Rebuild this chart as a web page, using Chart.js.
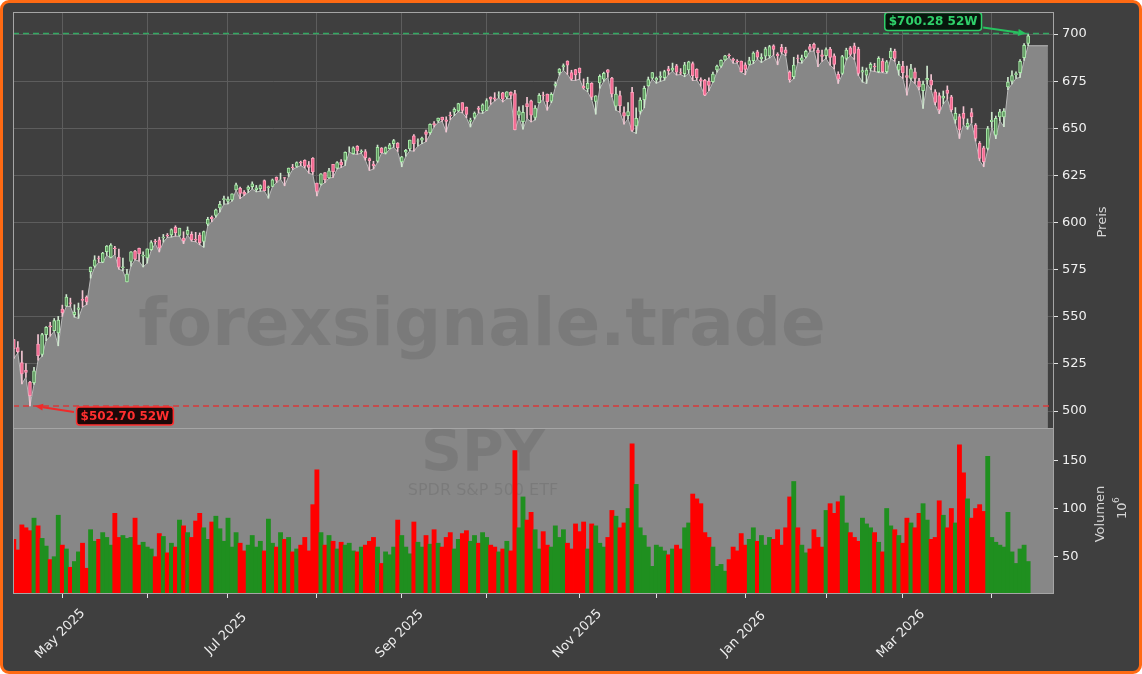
<!DOCTYPE html>
<html>
<head>
<meta charset="utf-8">
<script src="https://cdn.jsdelivr.net/npm/chart.js@4.4.1/dist/chart.umd.min.js"></script>
<style>
  html, body { margin: 0; padding: 0; background: #ffffff; }
  #frame { position: absolute; left: 0; top: 0; width: 1142px; height: 674px; box-sizing: border-box;
           border: 3px solid #ff6a13; border-radius: 9px; background: #3f3f3f; }
  canvas { position: absolute; left: 0; top: 0; }
</style>
</head>
<body>
<div id="frame"></div>
<canvas id="price" width="1142" height="430"></canvas>
<canvas id="volume" width="1142" height="674"></canvas>
<script>
// SPY daily, adjusted, 2025-04-14 .. 2026-04-15 (USD), volume in millions
const opens = [
  537.9, 533.6, 525.7, 521.6, 515.3, 515.1, 535.5, 530.0, 540.5, 545.2, 542.7, 541.4,
  554.1, 555.6, 557.4, 551.1, 553.9, 559.2, 560.5, 573.9, 576.8, 581.1, 579.0, 584.6, 581.5, 586.4, 581.7, 576.1, 568.5, 579.4, 584.9, 586.3, 582.2,
  581.2, 585.6, 590.2, 590.8, 591.9, 593.2, 593.4, 597.4, 593.2, 591.7, 593.7, 593.8, 591.2, 593.4, 590.0, 599.2, 602.8, 603.8, 607.8, 612.2,
  611.2, 612.0, 617.3, 618.2, 616.2, 617.6, 619.0, 617.5, 618.0, 622.2, 618.5, 619.2, 624.0, 623.5, 623.8, 626.3, 629.3, 629.8, 632.1, 633.0, 630.6, 634.1,
  621.0, 620.4, 626.5, 623.7, 630.9, 628.8, 632.1, 632.9, 639.5, 636.6, 640.5, 637.5, 637.7, 634.0, 631.0, 632.5, 639.5, 637.0, 639.2, 641.8, 642.1,
  632.1, 637.3, 639.0, 646.0, 643.2, 643.7, 648.1, 647.7, 652.5, 653.9, 655.9, 654.5, 657.0, 658.6, 659.2, 663.6, 661.2, 653.7, 655.8, 660.7, 659.2,
  659.5, 666.6, 666.2, 667.6, 668.8, 666.5, 669.1, 668.4, 656.9, 653.5, 663.1, 664.6, 655.8, 663.6, 667.6, 668.2, 664.4, 672.7, 679.5, 682.5, 685.6, 679.5, 681.2,
  681.9, 672.3, 670.9, 673.9, 664.2, 674.1, 676.1, 681.0, 676.7, 661.7, 667.4, 658.4, 656.7, 669.1, 651.3, 659.0, 665.2, 672.5, 676.6,
  675.6, 677.0, 676.9, 681.6, 680.8, 683.2, 679.6, 679.0, 681.0, 684.4, 681.3, 675.9, 675.4, 675.0, 674.8, 681.0, 682.9, 686.3, 688.7, 686.7, 685.6, 685.6,
  683.7, 683.9, 685.9, 690.6, 687.0, 688.3, 688.4, 693.7, 689.2, 693.0, 691.6, 679.8, 677.4, 687.3, 686.0, 687.9, 693.4, 694.5, 691.5, 689.0,
  688.5, 692.0, 688.5, 678.6, 679.1, 687.1, 692.7, 693.8, 692.0, 679.8, 678.2, 681.8, 683.0, 680.0, 685.7, 680.0, 687.4, 691.0, 680.9,
  683.0, 678.0, 676.5, 680.0, 675.0, 670.0, 675.5, 675.6, 669.4, 667.3, 666.0, 670.3, 666.7, 654.4, 656.2, 657.9, 650.8, 658.4, 651.7, 642.0, 639.7, 639.3,
  653.5, 646.4, 656.1, 656.1, 672.0, 675.0, 678.5, 679.5, 687.5, 695.0
];
const highs = [
  538.1, 536.9, 531.8, 525.2, 515.8, 523.2, 540.5, 541.2, 544.8, 547.1, 549.1, 550.2,
  556.2, 561.8, 559.9, 556.4, 557.3, 563.9, 561.1, 576.4, 582.4, 582.2, 584.2, 587.8, 588.8, 587.4, 585.9, 581.2, 575.2, 584.6, 585.3, 586.5, 584.4,
  586.1, 590.4, 591.1, 592.2, 593.7, 594.2, 596.7, 598.3, 597.0, 595.1, 597.7, 595.1, 594.8, 594.5, 595.5, 602.8, 603.5, 607.2, 611.2, 614.0,
  613.6, 615.3, 621.0, 618.8, 616.9, 619.5, 621.6, 619.7, 620.0, 622.6, 619.4, 623.1, 624.2, 626.2, 624.0, 628.9, 630.9, 632.2, 632.6, 633.3, 632.4, 634.5,
  621.0, 626.0, 626.5, 628.7, 630.9, 632.3, 633.4, 637.5, 640.2, 640.2, 640.8, 638.6, 638.7, 634.3, 632.5, 641.1, 639.8, 640.1, 642.0, 644.1, 642.4,
  635.1, 638.8, 643.7, 646.7, 644.4, 645.4, 649.1, 652.4, 653.6, 655.4, 655.9, 656.1, 658.6, 660.9, 663.3, 663.6, 661.3, 655.4, 658.7, 661.6, 663.0,
  665.7, 666.7, 668.9, 669.4, 669.1, 669.4, 669.3, 670.1, 661.4, 662.1, 666.4, 665.0, 662.1, 668.4, 669.2, 668.2, 668.9, 674.6, 681.7, 684.2, 685.8, 680.8, 681.3,
  682.0, 676.2, 677.1, 674.2, 667.3, 678.4, 679.8, 681.1, 677.1, 671.9, 669.8, 661.4, 663.6, 671.8, 660.9, 666.2, 672.4, 677.2, 679.6,
  677.2, 680.0, 680.8, 682.9, 684.6, 683.9, 681.7, 685.0, 685.6, 685.2, 681.6, 676.8, 676.0, 676.8, 679.8, 683.5, 686.3, 688.7, 689.5, 687.3, 686.4, 685.7,
  684.8, 687.7, 690.6, 691.4, 689.6, 693.0, 694.0, 694.3, 690.1, 694.5, 693.0, 680.5, 687.7, 688.9, 688.9, 691.5, 694.5, 695.2, 692.5, 691.5,
  692.7, 693.0, 689.5, 680.0, 688.7, 692.5, 693.4, 695.2, 693.0, 682.5, 682.0, 684.8, 684.5, 688.0, 687.0, 686.0, 692.5, 692.0, 685.5,
  685.5, 683.0, 684.0, 682.0, 676.5, 675.0, 683.0, 678.5, 670.5, 668.8, 669.8, 672.5, 667.5, 661.0, 657.5, 661.5, 655.0, 660.5, 652.5, 643.0, 640.5, 651.0,
  658.5, 656.5, 660.0, 660.5, 677.0, 680.5, 680.0, 686.5, 695.0, 700.28
];
const lows = [
  527.9, 530.8, 514.4, 518.0, 502.7, 514.1, 527.0, 529.0, 537.3, 539.7, 542.4, 534.6,
  550.2, 555.5, 555.5, 549.8, 549.2, 555.2, 556.4, 570.5, 576.2, 578.9, 578.7, 582.6, 581.3, 583.0, 575.2, 574.4, 568.5, 576.9, 580.2, 579.5, 576.4,
  578.5, 585.2, 588.8, 584.4, 589.6, 592.1, 592.3, 592.8, 592.7, 588.8, 593.5, 590.1, 589.8, 588.2, 586.9, 598.3, 600.4, 602.9, 605.7, 609.8,
  609.9, 611.4, 617.2, 612.7, 614.3, 615.9, 617.8, 616.3, 616.6, 616.8, 612.9, 619.0, 621.2, 623.0, 619.5, 624.4, 628.1, 629.3, 630.2, 629.0, 626.2, 625.5,
  614.1, 619.8, 621.2, 623.6, 623.9, 628.4, 629.2, 630.3, 637.4, 636.3, 636.2, 636.8, 633.1, 627.6, 628.4, 631.9, 636.9, 636.4, 639.0, 639.9, 637.7,
  629.6, 635.2, 638.1, 637.9, 640.6, 641.8, 642.9, 646.7, 650.7, 653.1, 653.7, 648.0, 654.6, 656.7, 658.8, 658.2, 655.6, 650.7, 654.9, 658.2, 657.9,
  659.4, 662.7, 664.5, 666.1, 664.0, 665.7, 665.7, 649.1, 655.6, 649.5, 655.2, 653.4, 654.4, 663.5, 665.3, 659.6, 663.6, 671.8, 678.3, 680.8, 678.6, 675.4, 675.4,
  676.1, 670.8, 669.4, 665.2, 657.5, 671.2, 674.9, 677.1, 666.7, 659.6, 658.5, 652.2, 655.1, 648.3, 647.3, 657.5, 660.9, 672.3, 676.0,
  673.9, 674.9, 675.5, 678.5, 680.2, 678.3, 678.5, 677.4, 679.1, 675.3, 675.5, 672.3, 667.3, 669.9, 674.4, 679.8, 682.3, 686.0, 687.6, 684.5, 684.6, 679.8,
  678.4, 683.5, 684.3, 686.7, 684.9, 686.3, 687.3, 688.9, 683.7, 689.6, 688.5, 674.5, 676.3, 684.9, 684.6, 687.3, 690.9, 691.0, 682.7, 685.5,
  687.0, 683.5, 681.5, 673.8, 678.5, 686.2, 688.5, 686.5, 678.0, 674.5, 673.8, 680.5, 680.2, 679.5, 679.5, 679.2, 687.0, 685.5, 678.2,
  676.5, 667.6, 675.5, 673.8, 670.3, 660.6, 673.5, 670.5, 662.5, 657.8, 663.0, 665.5, 658.8, 652.6, 644.6, 652.0, 649.5, 653.0, 643.2, 632.8, 629.6, 638.5,
  650.5, 644.5, 654.0, 650.8, 670.5, 673.5, 676.5, 677.0, 686.0, 693.8
];
const closes = [
  533.0, 531.5, 519.7, 520.5, 508.1, 521.3, 529.4, 540.5, 544.4, 544.6, 548.0, 548.3,
  552.2, 560.4, 557.1, 552.5, 554.8, 558.7, 557.9, 576.4, 580.2, 581.0, 583.8, 587.5, 588.1, 586.2, 576.3, 576.5, 572.6, 584.5, 580.6, 583.4, 582.7,
  586.0, 589.4, 589.7, 586.4, 592.3, 592.9, 596.3, 594.6, 597.0, 590.3, 595.9, 590.8, 590.6, 589.3, 595.2, 601.7, 602.0, 606.8, 609.7, 612.7,
  612.5, 615.3, 620.0, 615.5, 615.1, 618.8, 620.5, 618.4, 619.6, 616.9, 619.0, 622.7, 622.3, 623.5, 623.6, 628.9, 629.1, 631.8, 631.6, 629.9, 629.2, 626.8,
  616.5, 625.9, 622.7, 627.5, 627.0, 631.8, 630.6, 637.3, 639.5, 639.6, 638.0, 637.9, 634.4, 632.8, 630.2, 639.9, 637.1, 639.8, 641.2, 643.5, 639.7,
  634.9, 638.3, 643.7, 641.8, 643.3, 644.8, 646.7, 652.1, 651.9, 655.4, 654.5, 653.7, 656.7, 660.0, 663.1, 659.5, 657.4, 654.4, 658.1, 660.0, 662.5,
  664.7, 665.5, 665.5, 667.8, 665.4, 669.3, 667.4, 649.3, 659.3, 658.5, 661.5, 656.9, 660.7, 667.5, 667.5, 664.1, 668.0, 673.5, 681.4, 683.3, 683.5, 676.0, 678.3,
  679.5, 671.4, 673.8, 666.5, 667.2, 677.6, 679.2, 679.6, 668.3, 668.2, 662.0, 656.4, 658.9, 648.9, 655.3, 665.0, 671.2, 675.9, 679.6,
  676.5, 677.7, 680.1, 680.6, 681.9, 679.8, 679.2, 683.7, 685.3, 677.9, 676.9, 675.1, 667.6, 672.7, 678.8, 683.0, 686.1, 688.5, 688.4, 686.0, 685.2, 680.1,
  681.3, 685.9, 689.9, 687.7, 687.6, 692.2, 693.3, 691.9, 688.5, 690.4, 689.8, 675.8, 683.5, 687.1, 687.4, 690.9, 691.8, 692.4, 690.0, 688.2,
  691.7, 687.6, 683.9, 676.1, 688.0, 691.5, 689.2, 689.7, 679.1, 680.6, 680.9, 683.9, 682.5, 687.1, 680.0, 685.3, 691.0, 687.1, 683.9,
  679.5, 677.0, 681.5, 676.5, 672.0, 673.5, 676.5, 672.9, 663.7, 659.7, 667.0, 668.5, 659.7, 657.9, 649.1, 655.3, 652.6, 656.1, 644.6, 634.0, 632.3, 649.9,
  654.4, 655.3, 658.8, 659.1, 674.5, 678.0, 679.0, 685.5, 694.0, 699.0
];
const volumes = [
  68, 57, 83, 80, 77, 90, 82, 69, 61, 47, 50, 93,
  62, 58, 39, 45, 55, 64, 38, 78, 66, 68, 75, 70, 62, 95, 70, 72, 69, 70, 90, 62, 65,
  60, 58, 50, 74, 71, 54, 64, 60, 88, 82, 75, 70, 87, 95, 80, 68, 86, 92, 79, 66,
  90, 60, 75, 64, 56, 62, 72, 60, 66, 56, 89, 64, 60, 75, 68, 70, 55, 58, 62, 70, 56, 104,
  140, 75, 62, 72, 66, 58, 65, 62, 64, 56, 55, 60, 62, 66, 70, 60, 43, 55, 52, 60, 88,
  72, 60, 53, 86, 65, 60, 72, 63, 78, 64, 60, 70, 75, 58, 68, 74, 77, 66, 72, 64, 75,
  70, 62, 60, 55, 58, 66, 56, 160, 80, 112, 88, 96, 78, 58, 76, 62, 60, 82, 70, 78, 64, 58, 84,
  76, 86, 58, 84, 82, 64, 60, 70, 98, 92, 80, 85, 100, 167, 125, 80, 72, 60, 40,
  62, 60, 56, 52, 58, 62, 58, 80, 85, 115, 110, 105, 75, 70, 60, 40, 42, 35, 47, 60, 56, 74,
  62, 68, 80, 66, 72, 62, 70, 68, 78, 62, 80, 112, 128, 80, 62, 54, 58, 78, 70, 60,
  98, 105, 95, 107, 113, 85, 75, 70, 66, 90, 84, 80, 75, 65, 55, 100, 82, 78, 72,
  64, 90, 85, 80, 95, 105, 88, 68, 70, 108, 93, 80, 100, 85, 166, 137, 110, 90, 100, 104, 97, 154,
  70, 65, 62, 60, 96, 55, 43, 58, 62, 45
];
// the grey price area runs on flat past the last session
const areaTailDay = 255.9, areaTailLow = 693.8;

const priceTicks = [500, 525, 550, 575, 600, 625, 650, 675, 700];
const volumeTicks = [50, 100, 150];
const monthNames = ['Jan', 'Feb', 'Mar', 'Apr', 'May', 'Jun', 'Jul', 'Aug', 'Sep', 'Oct', 'Nov', 'Dec'];
const holidays = ['2025-04-18', '2025-05-26', '2025-06-19', '2025-07-04', '2025-09-01', '2025-11-27',
                  '2025-12-25', '2026-01-01', '2026-01-19', '2026-02-16', '2026-04-03'];

// trading sessions (x axis is the session index)
const days = [];
for (let d = new Date(Date.UTC(2025, 3, 14)); days.length < closes.length; d.setUTCDate(d.getUTCDate() + 1)) {
  const iso = d.toISOString().slice(0, 10);
  if (d.getUTCDay() === 0 || d.getUTCDay() === 6 || holidays.includes(iso)) continue;
  days.push(iso);
}
const monthStarts = [];
days.forEach((d, i) => { if (i > 0 && d.slice(5, 7) !== days[i - 1].slice(5, 7)) monthStarts.push(i); });
const monthLabel = i => {
  const m = +days[i].slice(5, 7);
  return m % 2 === 1 ? monthNames[m - 1] + ' ' + days[i].slice(0, 4) : '';
};

const xMin = -0.2, xMax = 257.4;
const FONT = 'DejaVu Sans, sans-serif';
const up = closes.map((c, i) => c >= opens[i]);
const hiIdx = highs.indexOf(Math.max(...highs));
const loIdx = lows.indexOf(Math.min(...lows));
const hiVal = highs[hiIdx], loVal = lows[loIdx];

function badge(ctx, text, cx, cy, color, fill) {
  ctx.font = 'bold 12px ' + FONT;
  const w = ctx.measureText(text).width + 8, h = 18;
  ctx.beginPath();
  ctx.roundRect(cx - w / 2, cy - h / 2, w, h, 3);
  ctx.fillStyle = fill; ctx.fill();
  ctx.lineWidth = 1.5; ctx.strokeStyle = color; ctx.stroke();
  ctx.fillStyle = color; ctx.textAlign = 'center'; ctx.textBaseline = 'middle';
  ctx.fillText(text, cx, cy + 0.5);
}
function arrow(ctx, x1, y1, x2, y2, color) {
  const a = Math.atan2(y2 - y1, x2 - x1), L = 8, W = 3.5;
  ctx.strokeStyle = color; ctx.fillStyle = color; ctx.lineWidth = 2;
  ctx.beginPath(); ctx.moveTo(x1, y1); ctx.lineTo(x2 - L * Math.cos(a), y2 - L * Math.sin(a)); ctx.stroke();
  ctx.beginPath(); ctx.moveTo(x2, y2);
  ctx.lineTo(x2 - L * Math.cos(a) + W * Math.sin(a), y2 - L * Math.sin(a) - W * Math.cos(a));
  ctx.lineTo(x2 - L * Math.cos(a) - W * Math.sin(a), y2 - L * Math.sin(a) + W * Math.cos(a));
  ctx.closePath(); ctx.fill();
}
// keep the plot boxes exactly where the reference has them
const noPad = s => { s.paddingTop = 0; s.paddingBottom = 0; s.paddingLeft = 0; s.paddingRight = 0; };

const pricePlugin = {
  id: 'priceDecor',
  afterDatasetsDraw(chart) {
    const { ctx, scales: { x, y } } = chart;
    ctx.save();
    ctx.font = 'bold 66px ' + FONT;
    ctx.fillStyle = 'rgba(0,0,0,0.09)';
    ctx.textAlign = 'center'; ctx.textBaseline = 'middle';
    ctx.fillText('forexsignale.trade', 482, 328);
    // 52W high / low badges
    const hx = x.getPixelForValue(hiIdx), hy = y.getPixelForValue(hiVal);
    arrow(ctx, hx - 45, hy - 6, hx - 2, hy, '#27c25f');
    badge(ctx, '$' + hiVal.toFixed(2) + ' 52W', hx - 95, hy - 12, '#2fd06a', '#07170c');
    const lx = x.getPixelForValue(loIdx), ly = y.getPixelForValue(loVal);
    arrow(ctx, lx + 44, ly + 6, lx + 5, ly, '#f02a2a');
    badge(ctx, '$' + loVal.toFixed(2) + ' 52W', lx + 95, ly + 10, '#ff2f2f', '#1c0808');
    ctx.restore();
  },
  afterDraw(chart) {
    const { ctx, chartArea: a } = chart;
    ctx.save();
    ctx.strokeStyle = '#a5a5a5'; ctx.lineWidth = 1;
    ctx.strokeRect(a.left + 0.5, a.top + 0.5, a.right - a.left - 1, a.bottom - a.top);
    ctx.translate(1103, (a.top + a.bottom) / 2 + 2);
    ctx.rotate(-Math.PI / 2);
    ctx.font = '13px ' + FONT; ctx.fillStyle = '#d6d6d6';
    ctx.textAlign = 'center'; ctx.textBaseline = 'middle';
    ctx.fillText('Preis', 0, 0);
    ctx.restore();
  }
};

new Chart(document.getElementById('price'), {
  type: 'bar',
  data: {
    datasets: [
      { type: 'line', data: days.map((d, i) => ({ x: i, y: lows[i] })).concat([{ x: areaTailDay, y: areaTailLow }]),
        fill: 'start', backgroundColor: '#878787', borderColor: '#b9b9b9', borderWidth: 1,
        pointRadius: 0, tension: 0, order: 5 },
      { type: 'bar', data: days.map((d, i) => ({ x: i, y: [lows[i], highs[i]] })),
        backgroundColor: up.map(u => u ? '#cfe8cf' : '#f3c6d3'), barThickness: 1, grouped: false, order: 3 },
      { type: 'bar', data: days.map((d, i) => ({ x: i, y: [opens[i], closes[i]] })),
        backgroundColor: up.map(u => u ? '#5f955f' : '#f2668f'),
        borderColor: up.map(u => u ? '#a8eca8' : '#ff9fba'),
        borderWidth: 1, borderSkipped: false, barThickness: 3, grouped: false, order: 2 },
      { type: 'line', data: [{ x: xMin, y: hiVal }, { x: xMax, y: hiVal }], borderColor: '#33a862',
        borderWidth: 1.6, borderDash: [6, 4], pointRadius: 0, fill: false, order: 1 },
      { type: 'line', data: [{ x: xMin, y: loVal }, { x: xMax, y: loVal }], borderColor: '#d83a3a',
        borderWidth: 1.6, borderDash: [6, 4], pointRadius: 0, fill: false, order: 1 }
    ]
  },
  options: {
    responsive: false, animation: false, devicePixelRatio: 1,
    layout: { padding: { left: 13, top: 12, right: 0, bottom: 0 } },
    plugins: { legend: { display: false }, tooltip: { enabled: false } },
    scales: {
      x: { type: 'linear', min: xMin, max: xMax, offset: false,
           grid: { color: '#5d5d5d', drawTicks: false, offset: false }, border: { display: false },
           ticks: { display: false },
           afterBuildTicks: s => { s.ticks = monthStarts.map(v => ({ value: v })); },
           afterFit: s => { s.height = 2; noPad(s); } },
      y: { position: 'right', min: 491, max: 711.7,
           grid: { color: '#5d5d5d', tickColor: '#e6e6e6', tickLength: 4 }, border: { display: false },
           ticks: { color: '#f0f0f0', font: { family: FONT, size: 13 }, padding: 4 },
           afterBuildTicks: s => { s.ticks = priceTicks.map(v => ({ value: v })); },
           afterFit: s => { s.width = 88; noPad(s); } }
    }
  },
  plugins: [pricePlugin]
});

const volumePlugin = {
  id: 'volumeDecor',
  beforeDraw(chart) {
    const { ctx, chartArea: a } = chart;
    ctx.save();
    ctx.fillStyle = '#878787';
    ctx.fillRect(a.left, a.top, a.right - a.left, a.bottom - a.top);
    ctx.restore();
  },
  beforeDatasetsDraw(chart) {
    const { ctx } = chart;
    ctx.save();
    ctx.fillStyle = 'rgba(0,0,0,0.09)';
    ctx.textAlign = 'center'; ctx.textBaseline = 'middle';
    ctx.font = 'bold 57px ' + FONT;
    ctx.fillText('SPY', 483, 456);
    ctx.font = '16px ' + FONT;
    ctx.fillText('SPDR S&P 500 ETF', 483, 491);
    ctx.restore();
  },
  afterDraw(chart) {
    const { ctx, chartArea: a, scales: { x } } = chart;
    ctx.save();
    ctx.strokeStyle = '#a5a5a5'; ctx.lineWidth = 1;
    ctx.strokeRect(a.left + 0.5, a.top + 0.5, a.right - a.left - 1, a.bottom - a.top - 1);
    ctx.font = '13px ' + FONT; ctx.fillStyle = '#ededed';
    ctx.textAlign = 'center'; ctx.textBaseline = 'middle';
    monthStarts.forEach(i => {
      const t = monthLabel(i);
      if (!t) return;
      ctx.save();
      ctx.translate(x.getPixelForValue(i) - 2, a.bottom + 40);
      ctx.rotate(-Math.PI / 4);
      ctx.fillText(t, 0, 0);
      ctx.restore();
    });
    ctx.fillStyle = '#d6d6d6';
    ctx.save();
    ctx.translate(1101, 514); ctx.rotate(-Math.PI / 2);
    ctx.fillText('Volumen', 0, 0);
    ctx.restore();
    ctx.save();
    ctx.translate(1122, 508); ctx.rotate(-Math.PI / 2);
    ctx.textAlign = 'left';
    ctx.fillText('10', -11, 1);
    ctx.font = '9px ' + FONT;
    ctx.fillText('6', 5, -5);
    ctx.restore();
    ctx.restore();
  }
};

new Chart(document.getElementById('volume'), {
  type: 'bar',
  data: {
    datasets: [{
      data: days.map((d, i) => ({ x: i, y: volumes[i] })),
      backgroundColor: up.map(u => u ? '#1f8f1f' : '#ff0000'),
      barThickness: 4.2, grouped: false
    }]
  },
  options: {
    responsive: false, animation: false, devicePixelRatio: 1,
    layout: { padding: { left: 13, top: 428, right: 0, bottom: 0 } },
    plugins: { legend: { display: false }, tooltip: { enabled: false } },
    scales: {
      x: { type: 'linear', min: xMin, max: xMax, offset: false,
           grid: { drawOnChartArea: false, tickLength: 4, tickColor: '#e6e6e6', offset: false },
           border: { display: false }, ticks: { display: false },
           afterBuildTicks: s => { s.ticks = monthStarts.map(v => ({ value: v })); },
           afterFit: s => { s.height = 80; noPad(s); } },
      y: { position: 'right', min: 11.3, max: 183.5,
           grid: { drawOnChartArea: false, tickColor: '#e6e6e6', tickLength: 4 }, border: { display: false },
           ticks: { color: '#f0f0f0', font: { family: FONT, size: 13 }, padding: 4 },
           afterBuildTicks: s => { s.ticks = volumeTicks.map(v => ({ value: v })); },
           afterFit: s => { s.width = 88; noPad(s); } }
    }
  },
  plugins: [volumePlugin]
});
</script>
</body>
</html>
